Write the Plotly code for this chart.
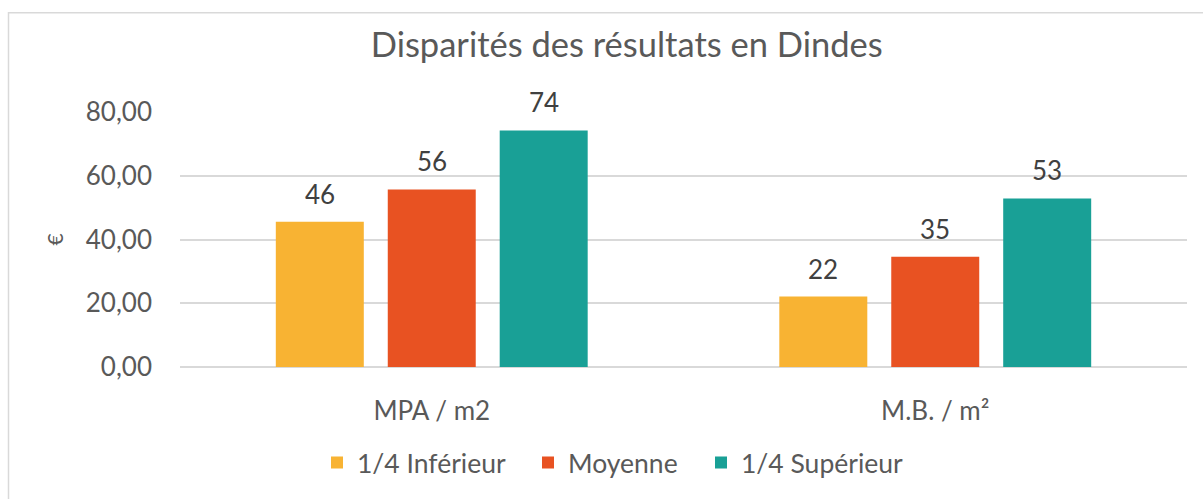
import plotly.graph_objects as go

categories = ["MPA / m2", "M.B. / m²"]
series_names = ["1/4 Inférieur", "Moyenne", "1/4 Supérieur"]
inferieur = [45.6, 22.1]
moyenne = [55.7, 34.6]
superieur = [74.2, 52.9]
colors = ["#F8B333", "#E85222", "#19A096"]
y_ticks = [0, 20, 40, 60, 80]
y_tick_labels = ["0,00", "20,00", "40,00", "60,00", "80,00"]

W, H = 1203, 499
L, R, T, B = 180, 16, 112, 129
pw, ph = W - L - R, H - T - B
BARGAP = 0.333
slot = (1 - BARGAP) * (pw / len(categories)) / 3

def px_x(p):
    return (p - L) / pw

def px_y(p):
    return (H - B - p) / ph

legend_names = ["legend", "legend2", "legend3"]
legend_x_px = [317, 528, 701]

fig = go.Figure()
annotations = []
for i, (name, vals, col) in enumerate(zip(series_names, [inferieur, moyenne, superieur], colors)):
    fig.add_trace(go.Bar(
        x=categories, y=vals, name=name,
        marker=dict(color=col, line=dict(width=0)),
        legend=legend_names[i],
    ))
    for c, v in zip(categories, vals):
        annotations.append(dict(
            x=c, y=v, xref="x", yref="y", text=f"{v:.0f}", showarrow=False,
            xshift=(i - 1) * slot, yshift=28, yanchor="middle", xanchor="center",
            font=dict(family="Lato", size=26, color="#404040"),
        ))

legend_common = dict(orientation="h", xanchor="left", yanchor="middle", y=px_y(467),
                     font=dict(family="Lato", size=26.5, color="#595959"),
                     itemwidth=30, bgcolor="rgba(0,0,0,0)")

fig.update_layout(
    width=W, height=H,
    margin=dict(l=L, r=R, t=T, b=B),
    paper_bgcolor="white", plot_bgcolor="white",
    barmode="group", bargap=BARGAP, bargroupgap=0.214,
    font=dict(family="Lato", color="#595959"),
    title=dict(text="Disparités des résultats en Dindes", x=0.521, xref="container",
               xanchor="center", y=1 - 45 / H, yref="container", yanchor="middle",
               font=dict(family="Lato", size=34.5, color="#595959")),
    showlegend=True,
    legend=dict(x=px_x(legend_x_px[0]), **legend_common),
    legend2=dict(x=px_x(legend_x_px[1]), **legend_common),
    legend3=dict(x=px_x(legend_x_px[2]), **legend_common),
    annotations=annotations,
)
fig.update_xaxes(showgrid=False, showline=False, ticks="", ticklabelstandoff=26,
                 tickfont=dict(family="Lato", size=26, color="#595959"))
fig.update_yaxes(range=[0, 80], tickvals=y_ticks, ticktext=y_tick_labels,
                 showgrid=True, gridcolor="#D9D9D9", gridwidth=1.5,
                 zeroline=True, zerolinecolor="#D9D9D9", zerolinewidth=1.5,
                 showline=False, ticks="", ticklabelstandoff=27,
                 tickfont=dict(family="Lato", size=26, color="#595959"),
                 title=dict(text="€", standoff=16, font=dict(family="Lato", size=21, color="#595959")))

fig.add_shape(type="rect", xref="paper", yref="paper",
              x0=px_x(8.5), x1=px_x(1230), y0=px_y(540), y1=px_y(11.5),
              line=dict(color="#D9D9D9", width=1.5), fillcolor="rgba(0,0,0,0)", layer="below")

fig.write_html("out.html", config={"displayModeBar": False},
               post_script="document.body.style.margin='0px';")
